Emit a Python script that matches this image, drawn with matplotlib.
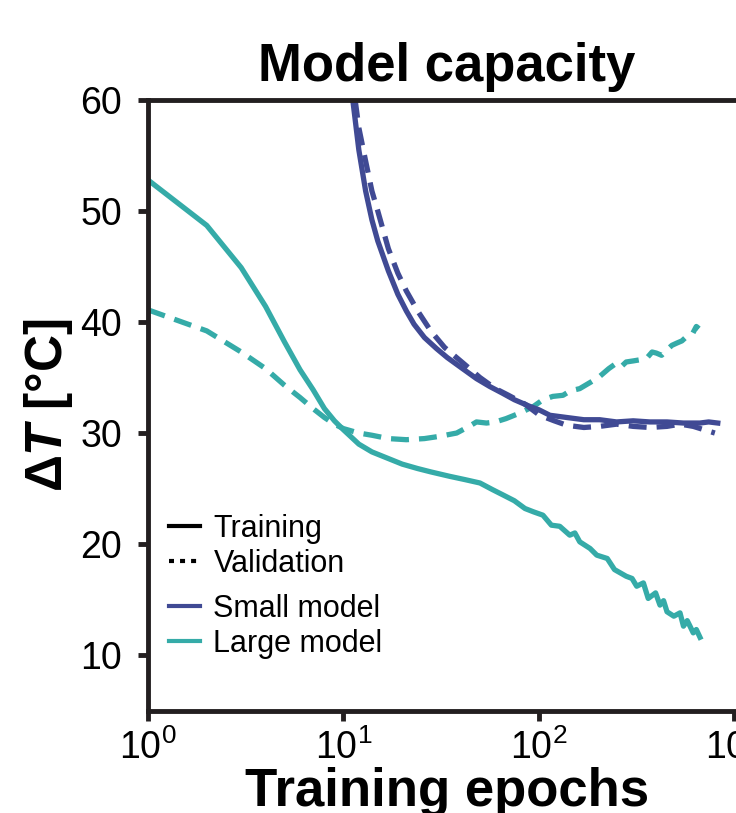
import numpy as np
import matplotlib
matplotlib.use("Agg")
import matplotlib.pyplot as plt
from matplotlib.lines import Line2D

plt.rcParams['font.family'] = ['Liberation Sans', 'DejaVu Sans']
plt.rcParams['mathtext.fontset'] = 'custom'
plt.rcParams['mathtext.rm'] = 'Liberation Sans'
plt.rcParams['mathtext.it'] = 'Liberation Sans:italic:bold'
plt.rcParams['mathtext.bf'] = 'Liberation Sans:bold'

SMALL_COLOR = '#404a94'
LARGE_COLOR = '#35aba8'
AXIS_COLOR = '#231f20'

# Large model, training (solid)
large_train_epochs = [1, 2, 3, 4, 5, 6, 7, 8, 9, 10, 12, 14, 17, 20, 24, 28, 35, 42, 50,
                      58, 66, 75, 85, 94, 105, 116, 128, 144, 153, 162, 183, 198, 224,
                      244, 280, 300, 317, 343, 363, 396, 417, 435, 453, 491, 528, 550,
                      575, 594, 617, 640, 668]
large_train_vals = [52.8, 48.7, 44.9, 41.4, 38.2, 35.7, 33.9, 32.2, 31.1, 30.3, 29.0, 28.3,
                    27.7, 27.2, 26.8, 26.5, 26.1, 25.8, 25.5, 24.9, 24.4, 23.9, 23.2, 22.9,
                    22.6, 21.7, 21.6, 20.8, 21.0, 20.2, 19.6, 19.0, 18.7, 17.7, 17.1, 16.9,
                    16.2, 16.5, 15.1, 15.6, 14.5, 14.9, 13.9, 13.5, 13.8, 12.6, 13.1, 12.6,
                    12.0, 12.3, 11.6]

# Large model, validation (dashed)
large_val_epochs = [1, 2, 3, 4, 5, 6, 7, 8, 9, 10, 12, 14, 17, 21, 26, 31, 38, 44, 48, 54,
                    60, 68, 80, 94, 105, 118, 133, 145, 162, 185, 205, 228, 250, 265, 280,
                    305, 330, 355, 380, 400, 425, 453, 480, 508, 540, 572, 610, 640, 660]
large_val_vals = [41.1, 39.2, 37.3, 35.8, 34.3, 33.2, 32.2, 31.4, 30.8, 30.4, 30.0, 29.8,
                  29.5, 29.4, 29.5, 29.7, 30.0, 30.6, 31.0, 30.9, 31.0, 31.3, 31.8, 32.4,
                  33.0, 33.3, 33.4, 33.8, 34.0, 34.6, 35.1, 35.8, 36.3, 36.0, 36.4, 36.5,
                  36.6, 36.7, 37.3, 37.2, 37.0, 37.5, 37.9, 38.1, 38.3, 38.7, 38.9, 39.6,
                  39.4]

# Small model, training (solid)
small_train_epochs = [11, 12, 13, 14, 15, 17, 19, 21, 23, 26, 30, 34, 40, 48, 56, 65, 75,
                      90, 100, 114, 139, 170, 205, 250, 304, 370, 453, 550, 668, 740, 824]
small_train_vals = [61.0, 55.5, 51.8, 49.2, 47.3, 44.6, 42.5, 41.0, 39.8, 38.6, 37.6, 36.8,
                    35.9, 34.9, 34.2, 33.6, 33.0, 32.4, 32.1, 31.6, 31.4, 31.2, 31.2, 31.0,
                    31.1, 31.0, 31.0, 30.9, 30.9, 31.0, 30.9]

# Small model, validation (dashed)
small_val_epochs = [11, 12, 13, 14, 15, 17, 19, 21, 24, 28, 33, 41, 50, 60, 70, 85, 101,
                    120, 139, 170, 205, 250, 304, 370, 453, 530, 617, 700, 796]
small_val_vals = [62.5, 57.5, 54.5, 51.8, 50.0, 46.6, 44.4, 42.8, 41.0, 39.2, 37.7, 36.3,
                  35.0, 34.0, 33.4, 32.6, 31.6, 31.1, 30.7, 30.5, 30.6, 30.8, 30.6, 30.5,
                  30.6, 30.8, 30.6, 30.3, 30.0]

fig = plt.figure(figsize=(7.36, 8.13), dpi=100)
ax = fig.add_axes([0.201, 0.126, 0.8125, 0.751])

lw = 3.8
ax.plot(large_train_epochs, large_train_vals, color=LARGE_COLOR, lw=lw)
ax.plot(large_val_epochs, large_val_vals, color=LARGE_COLOR, lw=lw, ls=(0, (3.4, 1.9)))
ax.plot(small_train_epochs, small_train_vals, color=SMALL_COLOR, lw=lw)
ax.plot(small_val_epochs, small_val_vals, color=SMALL_COLOR, lw=lw, ls=(0, (3.4, 1.9)))

ax.set_xscale('log')
ax.set_xlim(1, 10 ** 3.06)
ax.set_ylim(5, 60)
ax.set_yticks([10, 20, 30, 40, 50, 60])
ax.set_xticks([1, 10, 100, 1000])
ax.xaxis.set_minor_locator(matplotlib.ticker.NullLocator())

for side in ['top', 'bottom', 'left', 'right']:
    ax.spines[side].set_linewidth(3.5)
    ax.spines[side].set_color(AXIS_COLOR)
ax.tick_params(axis='both', which='major', length=7.5, width=3.5, color=AXIS_COLOR,
               labelsize=27)
ax.tick_params(axis='y', pad=11)
ax.tick_params(axis='x', pad=6)

ax.set_title('Model capacity', fontsize=38, fontweight='bold', pad=14)
ax.set_xlabel('Training epochs', fontsize=38, fontweight='bold', labelpad=0)
ax.set_ylabel(r'$\mathdefault{\Delta}\mathit{T}$ [°C]', fontsize=37, fontweight='bold',
              labelpad=4)

style_handles = [Line2D([], [], color='black', lw=3),
                 Line2D([], [], color='black', lw=3, ls=(0, (1.2, 1.45)))]
leg1 = ax.legend(style_handles, ['Training', 'Validation'], loc='upper left',
                 bbox_to_anchor=(0.02, 0.337), frameon=False, fontsize=22,
                 handlelength=1.0, handletextpad=0.45, labelspacing=0.17,
                 borderaxespad=0.0, borderpad=0.3)
ax.add_artist(leg1)
model_handles = [Line2D([], [], color=SMALL_COLOR, lw=3),
                 Line2D([], [], color=LARGE_COLOR, lw=3)]
ax.legend(model_handles, ['Small model', 'Large model'], loc='upper left',
          bbox_to_anchor=(0.02, 0.206), frameon=False, fontsize=22,
          handlelength=1.0, handletextpad=0.45, labelspacing=0.17,
          borderaxespad=0.0, borderpad=0.3)

fig.savefig('out.png', dpi=100)
